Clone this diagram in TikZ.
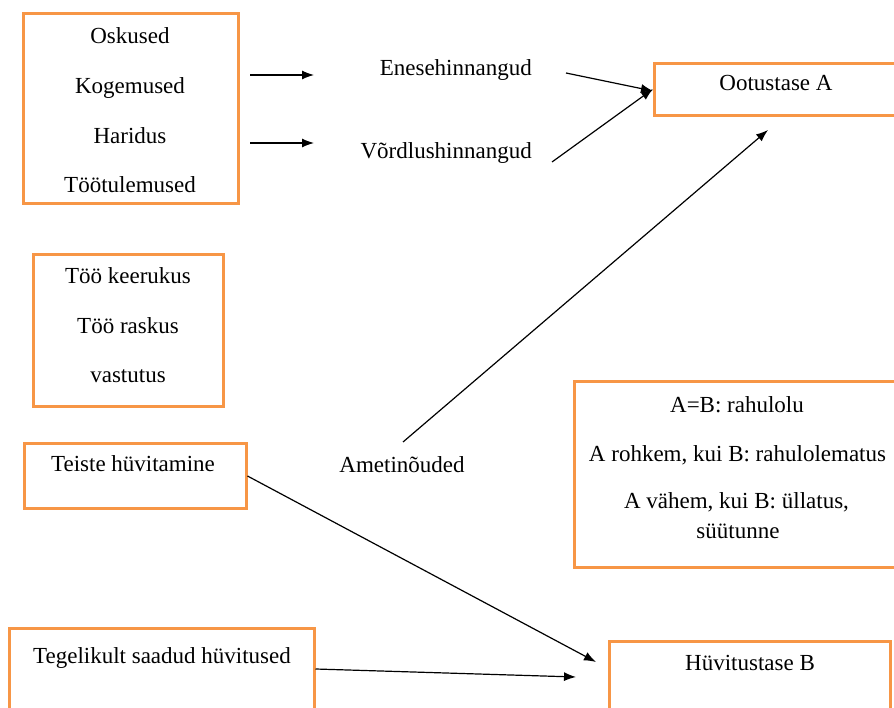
\documentclass[tikz,border=0pt]{standalone}
\usepackage{fontspec}
\setmainfont{Liberation Serif}
\usetikzlibrary{arrows.meta}
\definecolor{boxorange}{RGB}{247,150,70}
\begin{document}
\begin{tikzpicture}[x=1pt,y=-1pt,
  box/.style={draw=boxorange,line width=3pt,inner sep=0pt,fill=white},
  lbl/.style={inner sep=0pt,font=\fontsize{23}{27}\selectfont,anchor=base},
  arr/.style={line width=1.2pt,-{Latex[length=12pt,width=9pt]}},
  ln/.style={line width=1.2pt}
]
\useasboundingbox (0,0) rectangle (894,708);
\clip (0,0) rectangle (894,708);
\fill[white] (0,0) rectangle (894,708);

% boxes
\node[box,minimum width=215pt,minimum height=190pt] (b1) at (130.5,109) {};
\node[box,minimum width=190pt,minimum height=151pt] (b2) at (128,330.5) {};
\node[box,minimum width=222pt,minimum height=65pt] (b3) at (135,475.5) {};
\node[box,minimum width=305pt,minimum height=110pt] (b4) at (161.5,683) {};
\node[box,minimum width=244pt,minimum height=52pt] (bA) at (776,90) {};
\node[box,minimum width=327pt,minimum height=185pt] (bR) at (737.5,474.5) {};
\node[box,minimum width=281pt,minimum height=100pt] (bB) at (749.5,691) {};

% texts
\node[lbl] (t11) at (130,43.5) {Oskused};
\node[lbl] (t12) at (130,94) {Kogemused};
\node[lbl] (t13) at (130,144) {Haridus};
\node[lbl] (t14) at (130,193) {Töötulemused};

\node[lbl] (t21) at (128,284) {Töö keerukus};
\node[lbl] (t22) at (128,334) {Töö raskus};
\node[lbl] (t23) at (128,383) {vastutus};

\node[lbl] (t3) at (133,471) {Teiste hüvitamine};
\node[lbl] (t4) at (162,663) {Tegelikult saadud hüvitused};

\node[lbl,anchor=base east] (en) at (532,75.5) {Enesehinnangud};
\node[lbl,anchor=base east] (vo) at (532,159) {Võrdlushinnangud};
\node[lbl] (am) at (402,472) {Ametinõuded};

\node[lbl] (tA) at (776,91) {Ootustase A};
\node[lbl] (tB) at (750,670) {Hüvitustase B};

\node[lbl] (r1) at (737,412) {A=B: rahulolu};
\node[lbl] (r2) at (737.5,461) {A rohkem, kui B: rahulolematus};
\node[lbl] (r3) at (736.5,508) {A vähem, kui B: üllatus,};
\node[lbl] (r4) at (738,538) {süütunne};

% connector end points
\coordinate (p1s) at (250,75);
\coordinate (p1e) at (314,75);
\coordinate (p2s) at (250,143);
\coordinate (p2e) at (314,143);
\coordinate (p3s) at (566,73);
\coordinate (p3e) at (653,91);
\coordinate (p4s) at (552,162);
\coordinate (p4e) at (653,89);
\coordinate (p5s) at (403,442);
\coordinate (p5e) at (768,130);
\coordinate (p6e) at (596,662);
\coordinate (p7e) at (576,677);

% connectors
\draw[arr] (p1s) -- (p1e);
\draw[arr] (p2s) -- (p2e);
\draw[arr] (p3s) -- (p3e);
\draw[arr] (p4s) -- (p4e);
\draw[arr] (p5s) -- (p5e);
\draw[arr] (b3.east |- 0,476) -- (p6e);
\draw[arr] (b4.east |- 0,669) -- (p7e);
\end{tikzpicture}
\end{document}
